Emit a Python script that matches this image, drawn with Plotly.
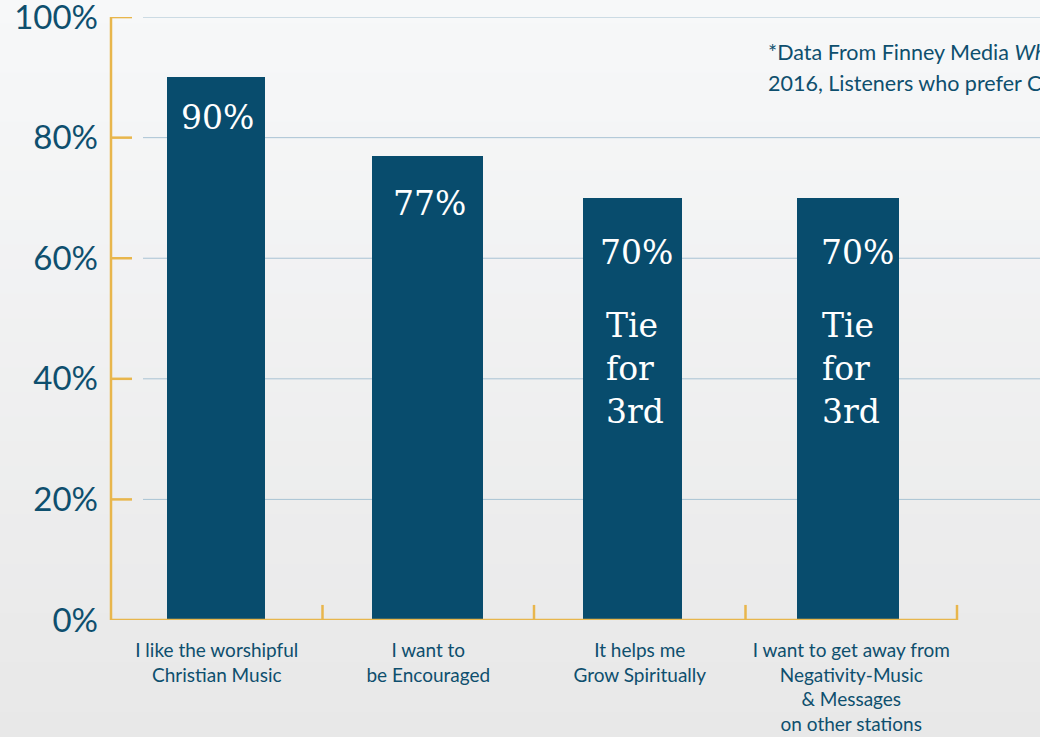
import plotly.graph_objects as go

categories = [
    "I like the worshipful<br>Christian Music",
    "I want to<br>be Encouraged",
    "It helps me<br>Grow Spiritually",
    "I want to get away from<br>Negativity-Music<br>& Messages<br>on other stations",
]
values = [90, 77, 70, 70]
extra_notes = ["", "", "Tie<br>for<br>3rd", "Tie<br>for<br>3rd"]
y_ticks = [0, 20, 40, 60, 80, 100]
y_tick_labels = [f"{v}%" for v in y_ticks]

BAR = "#084C6D"
TXT = "#0E4F6E"
GOLD = "#E8B64C"
GRID = "#A9C3D4"

W, H = 1040, 737
L, T, B = 111, 17, 117
plot_w = W - L
cat_w = 211.5
x_pos = list(range(len(categories)))
x_max = -0.5 + plot_w / cat_w

# bar geometry (pixels, relative to category slot)
bar_px_w = [98, 111, 99, 102]
bar_px_off = [-49.75, -56.25, -56.75, -54.25]

fig = go.Figure()
fig.add_trace(go.Bar(
    x=x_pos, y=values,
    width=[w / cat_w for w in bar_px_w],
    offset=[o / cat_w for o in bar_px_off],
    marker=dict(color=BAR, line=dict(width=0)),
    hoverinfo="skip",
))

shapes = []
# background gradient bands (full figure)
plot_h = H - T - B
y_lo = -B / plot_h
y_hi = 1 + T / plot_h
n = 30
top_c = (247, 248, 249)
bot_c = (232, 232, 232)
for i in range(n):
    f = i / (n - 1)
    c = tuple(round(top_c[k] + (bot_c[k] - top_c[k]) * f) for k in range(3))
    y1 = y_hi - (y_hi - y_lo) * i / n
    y0 = y_hi - (y_hi - y_lo) * (i + 1) / n
    if i == 0:
        y1 += 0.05
    if i == n - 1:
        y0 -= 0.05
    shapes.append(dict(type="rect", xref="paper", yref="paper", x0=-0.2, x1=1.1,
                       y0=y0 - 0.002, y1=y1 + 0.002, fillcolor=f"rgb{c}",
                       line=dict(width=0), layer="below"))
# gridlines
for v in y_ticks[1:]:
    shapes.append(dict(type="line", xref="paper", yref="y", x0=32 / plot_w, x1=1.0,
                       y0=v, y1=v, line=dict(color=GRID, width=1), layer="below"))
# gold axes
shapes.append(dict(type="line", xref="paper", yref="y", x0=0, x1=0, y0=0, y1=100,
                   line=dict(color=GOLD, width=2.5)))
shapes.append(dict(type="line", xref="x", yref="y", x0=-0.5, x1=len(categories) - 0.5,
                   y0=0, y1=0, line=dict(color=GOLD, width=2.5)))
for v in y_ticks[1:]:
    shapes.append(dict(type="line", xref="paper", yref="y", x0=0, x1=21 / plot_w,
                       y0=v, y1=v, line=dict(color=GOLD, width=2.5)))
for i in range(1, len(categories) + 1):
    shapes.append(dict(type="line", xref="x", yref="y", x0=i - 0.5, x1=i - 0.5,
                       y0=0, y1=2.5, line=dict(color=GOLD, width=2.5)))

annotations = []
shifts = [-40, -48, -55, -55]
xoffs = [0.75, 0.75, -3.25, 6.25]
tie_left = [0, 0, -35.75, -31.25]
for i, v in enumerate(values):
    annotations.append(dict(x=i, y=v, xref="x", yref="y", text=f"{v}%", showarrow=False,
                            yanchor="middle", yshift=shifts[i], xshift=xoffs[i],
                            font=dict(family="DejaVu Serif", size=33, color="white")))
    if extra_notes[i]:
        annotations.append(dict(x=i, y=v, xref="x", yref="y", text=extra_notes[i],
                                showarrow=False, align="left", xanchor="left",
                                yanchor="top", yshift=-106, xshift=tie_left[i],
                                font=dict(family="DejaVu Serif", size=33, color="white")))

annotations.append(dict(xref="paper", yref="paper", x=(766 - L) / plot_w, y=1 - (52 - T) / plot_h,
                        xanchor="left", yanchor="middle", align="left", showarrow=False,
                        text="*Data From Finney Media <i>What Christian Radio Listeners Want</i>",
                        font=dict(family="Lato", size=21.5, color=TXT)))
annotations.append(dict(xref="paper", yref="paper", x=(766 - L) / plot_w, y=1 - (83 - T) / plot_h,
                        xanchor="left", yanchor="middle", align="left", showarrow=False,
                        text="2016, Listeners who prefer CCM stations",
                        font=dict(family="Lato", size=21.5, color=TXT)))

fig.update_layout(
    width=W, height=H,
    margin=dict(l=L, r=0, t=T, b=B, pad=0, autoexpand=False),
    paper_bgcolor="#F7F8F9", plot_bgcolor="rgba(0,0,0,0)",
    showlegend=False, bargap=0,
    shapes=shapes, annotations=annotations,
    xaxis=dict(range=[-0.5, x_max], tickvals=x_pos, ticktext=categories,
               showgrid=False, zeroline=False, showline=False, ticks="",
               tickfont=dict(family="Lato", size=19, color=TXT), ticklabelstandoff=17,
               automargin=False, fixedrange=True),
    yaxis=dict(range=[0, 100.01], tickvals=y_ticks, ticktext=y_tick_labels,
               showgrid=False, zeroline=False, showline=False, ticks="",
               tickfont=dict(family="Lato", size=33, color=TXT), ticklabelstandoff=12,
               ticklabeloverflow="allow", automargin=False, fixedrange=True),
)

fig.write_html("out.html", config={"displayModeBar": False},
               post_script="document.body.style.margin='0';document.body.style.overflow='hidden';")
